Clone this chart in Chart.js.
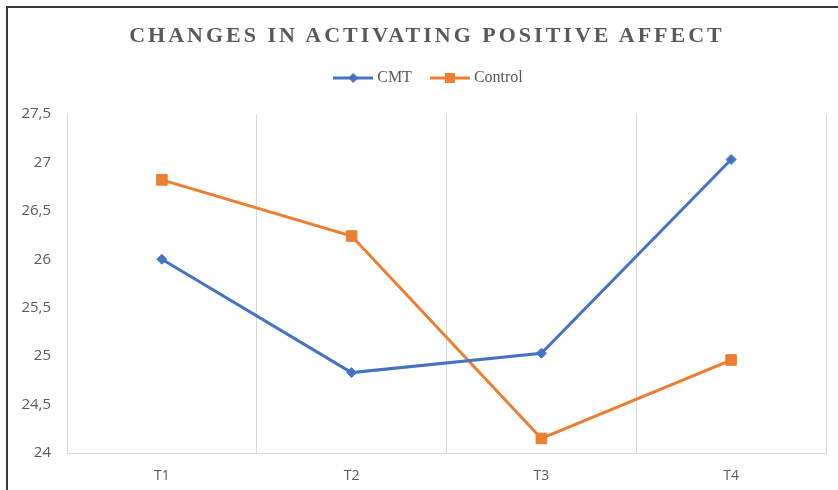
<!DOCTYPE html>
<html>
<head>
<meta charset="utf-8">
<script src="https://cdn.jsdelivr.net/npm/chart.js@4.4.0/dist/chart.umd.min.js"></script>
<style>
    body { margin: 0; background: #fff; }
    #wrap { position: relative; width: 838px; height: 490px; background: #fff; overflow: hidden; }
    #chart { position: absolute; left: 0; top: 0; }
    .frame {
        position: absolute; left: 6px; top: 6px; right: 0; bottom: 0;
        border-top: 2px solid #3a3a3a; border-left: 2px solid #3a3a3a;
        pointer-events: none;
    }
    .title {
        position: absolute; left: 16px; right: 0; top: 24px;
        text-align: center;
        font-family: "Liberation Serif", "Times New Roman", serif;
        font-weight: bold; font-size: 22px; line-height: 22px;
        letter-spacing: 3px; color: #595959;
    }
</style>
</head>
<body>
<div id="wrap">
    <canvas id="chart" width="838" height="490"></canvas>
    <div class="frame"></div>
    <div class="title">CHANGES IN ACTIVATING POSITIVE AFFECT</div>
</div>
<script>
const categories = ['T1', 'T2', 'T3', 'T4'];
const cmtValues = [26.0, 24.83, 25.03, 27.03];
const controlValues = [26.82, 26.24, 24.15, 24.96];
const yMin = 24;
const yMax = 27.5;
const yStep = 0.5;

const blue = '#4472C4';
const orange = '#ED7D31';
const textGray = '#595959';
const gridGray = '#d9d9d9';

// legend marker: short line with the point marker in the middle
function legendIcon(color, style) {
    const c = document.createElement('canvas');
    c.width = 40;
    c.height = 12;
    const g = c.getContext('2d');
    g.strokeStyle = color;
    g.lineWidth = 3;
    g.beginPath();
    g.moveTo(0, 6);
    g.lineTo(40, 6);
    g.stroke();
    g.fillStyle = color;
    if (style === 'diamond') {
        g.beginPath();
        g.moveTo(20, 1);
        g.lineTo(25, 6);
        g.lineTo(20, 11);
        g.lineTo(15, 6);
        g.closePath();
        g.fill();
    } else {
        g.fillRect(15, 1, 10, 10);
    }
    return c;
}

// extra room under the legend, and nudge it right like the original
const legendSpace = {
    id: 'legendSpace',
    beforeInit(chart) {
        const fit = chart.legend.fit;
        chart.legend.fit = function () {
            fit.bind(chart.legend)();
            this.height += 18;
        };
    },
    afterLayout(chart) {
        chart.legend.left += 13;
        chart.legend.right += 13;
    }
};

const ctx = document.getElementById('chart');

new Chart(ctx, {
    type: 'line',
    data: {
        labels: categories,
        datasets: [{
            label: 'CMT',
            data: cmtValues,
            borderColor: blue,
            backgroundColor: blue,
            borderWidth: 3,
            pointStyle: 'rectRot',
            pointRadius: 5,
            pointBorderWidth: 1,
            pointBackgroundColor: blue,
            pointBorderColor: blue,
            tension: 0,
            fill: false
        }, {
            label: 'Control',
            data: controlValues,
            borderColor: orange,
            backgroundColor: orange,
            borderWidth: 3,
            pointStyle: 'rect',
            pointRadius: 7.5,
            pointBorderWidth: 1,
            pointBackgroundColor: orange,
            pointBorderColor: orange,
            tension: 0,
            fill: false
        }]
    },
    options: {
        responsive: false,
        animation: false,
        devicePixelRatio: 1,
        layout: {
            padding: { top: 48, left: 8, right: 12, bottom: 5 }
        },
        plugins: {
            title: { display: false },
            tooltip: { enabled: false },
            legend: {
                display: true,
                position: 'top',
                labels: {
                    usePointStyle: true,
                    pointStyleWidth: 32,
                    padding: 22,
                    color: textGray,
                    font: { family: '"Liberation Serif", "Times New Roman", serif', size: 16 },
                    generateLabels(chart) {
                        return chart.data.datasets.map((ds, i) => ({
                            text: ds.label,
                            fillStyle: ds.borderColor,
                            strokeStyle: ds.borderColor,
                            fontColor: textGray,
                            lineWidth: 0,
                            pointStyle: legendIcon(ds.borderColor, i === 0 ? 'diamond' : 'square'),
                            hidden: false,
                            datasetIndex: i
                        }));
                    }
                }
            }
        },
        scales: {
            x: {
                offset: true,
                grid: {
                    display: true,
                    offset: true,
                    color: gridGray,
                    lineWidth: 1,
                    drawTicks: false
                },
                border: { display: true, color: gridGray, width: 1 },
                ticks: {
                    color: textGray,
                    padding: 15,
                    font: { family: '"Open Sans", sans-serif', size: 14 }
                },
                afterFit(scale) {
                    scale.height = 32;
                }
            },
            y: {
                min: yMin,
                max: yMax,
                grid: { display: false, drawTicks: false },
                border: { display: false },
                ticks: {
                    stepSize: yStep,
                    color: textGray,
                    padding: 16,
                    font: { family: '"Open Sans", sans-serif', size: 15 },
                    callback: (value) => String(value).replace('.', ',')
                },
                afterFit(scale) {
                    scale.width = 59;
                }
            }
        }
    },
    plugins: [legendSpace]
});
</script>
</body>
</html>
